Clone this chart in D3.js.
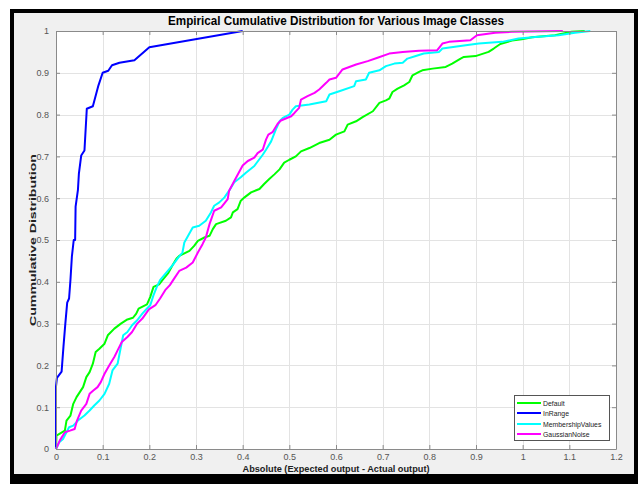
<!DOCTYPE html>
<html>
<head>
<meta charset="utf-8">
<script src="https://cdn.jsdelivr.net/npm/d3@7"></script>
<style>
  body { margin: 0; background: #fff; }
  svg { display: block; }
  text { font-family: "Liberation Sans", Arial, Helvetica, sans-serif; }
</style>
</head>
<body>
<svg id="chart" width="638" height="484"></svg>
<script>
// Empirical CDF samples [absolute error, cumulative fraction] for each image class
const seriesNames = ["Default", "InRange", "MembershipValues", "GaussianNoise"];
const seriesColors = ["#00ff00", "#0000ff", "#00ffff", "#ff00ff"];

const defaultCdf = [[0,0],[0.001,0.032],[0.019,0.044],[0.0225,0.068],[0.031,0.08],[0.037,0.108],[0.044,0.124],[0.051,0.136],[0.058,0.148],[0.065,0.172],[0.072,0.184],[0.079,0.204],[0.085,0.232],[0.093,0.24],[0.104,0.252],[0.111,0.272],[0.125,0.288],[0.139,0.3],[0.153,0.31],[0.165,0.314],[0.172,0.324],[0.177,0.336],[0.195,0.346],[0.202,0.364],[0.209,0.388],[0.221,0.394],[0.228,0.404],[0.24,0.42],[0.25,0.44],[0.258,0.455],[0.264,0.462],[0.286,0.474],[0.296,0.486],[0.304,0.498],[0.318,0.506],[0.329,0.51],[0.336,0.526],[0.343,0.538],[0.364,0.546],[0.375,0.554],[0.379,0.566],[0.389,0.574],[0.396,0.594],[0.404,0.602],[0.418,0.614],[0.436,0.622],[0.446,0.634],[0.457,0.646],[0.468,0.657],[0.479,0.669],[0.489,0.685],[0.5,0.692],[0.514,0.7],[0.525,0.712],[0.543,0.72],[0.564,0.732],[0.586,0.74],[0.6,0.752],[0.618,0.76],[0.625,0.776],[0.643,0.784],[0.657,0.794],[0.679,0.808],[0.693,0.828],[0.707,0.834],[0.714,0.838],[0.721,0.854],[0.732,0.862],[0.746,0.87],[0.757,0.878],[0.764,0.894],[0.778,0.902],[0.785,0.906],[0.807,0.91],[0.835,0.914],[0.849,0.922],[0.867,0.934],[0.874,0.938],[0.899,0.94],[0.927,0.95],[0.938,0.958],[0.952,0.969],[0.977,0.977],[0.998,0.98],[1.02,0.985],[1.069,0.99],[1.105,0.998],[1.133,1.0]];

const inRangeCdf = [[0,0],[0,0.15],[0.002,0.17],[0.012,0.185],[0.016,0.245],[0.02,0.3],[0.024,0.35],[0.028,0.36],[0.031,0.405],[0.034,0.46],[0.038,0.5],[0.041,0.5],[0.042,0.58],[0.047,0.62],[0.049,0.658],[0.054,0.702],[0.061,0.714],[0.066,0.814],[0.079,0.82],[0.091,0.87],[0.1,0.9],[0.112,0.905],[0.12,0.918],[0.136,0.924],[0.168,0.93],[0.2,0.961],[0.4,1.0]];

const membershipCdf = [[0,0],[0.007,0.016],[0.015,0.024],[0.028,0.052],[0.037,0.056],[0.047,0.068],[0.061,0.08],[0.072,0.092],[0.082,0.104],[0.093,0.116],[0.104,0.132],[0.114,0.156],[0.121,0.188],[0.132,0.204],[0.139,0.244],[0.144,0.272],[0.153,0.28],[0.163,0.296],[0.174,0.308],[0.185,0.324],[0.195,0.336],[0.202,0.344],[0.209,0.368],[0.216,0.388],[0.223,0.404],[0.235,0.42],[0.25,0.44],[0.262,0.458],[0.271,0.47],[0.275,0.494],[0.293,0.53],[0.307,0.534],[0.321,0.546],[0.332,0.566],[0.339,0.582],[0.35,0.59],[0.361,0.602],[0.371,0.618],[0.382,0.638],[0.396,0.65],[0.407,0.661],[0.425,0.677],[0.443,0.704],[0.45,0.716],[0.461,0.736],[0.471,0.764],[0.479,0.784],[0.486,0.792],[0.5,0.8],[0.507,0.812],[0.514,0.82],[0.543,0.824],[0.579,0.832],[0.586,0.848],[0.607,0.856],[0.639,0.868],[0.643,0.88],[0.664,0.884],[0.671,0.9],[0.693,0.906],[0.707,0.916],[0.725,0.922],[0.743,0.924],[0.753,0.934],[0.771,0.94],[0.788,0.946],[0.821,0.95],[0.828,0.958],[0.878,0.966],[0.906,0.97],[0.956,0.974],[0.991,0.982],[1.034,0.986],[1.077,0.99],[1.112,0.996],[1.145,1.0]];

const gaussianCdf = [[0,0],[0.008,0.02],[0.019,0.04],[0.03,0.044],[0.04,0.048],[0.045,0.068],[0.054,0.092],[0.065,0.108],[0.072,0.132],[0.08,0.14],[0.089,0.148],[0.096,0.16],[0.104,0.18],[0.114,0.2],[0.125,0.22],[0.132,0.236],[0.141,0.256],[0.153,0.268],[0.163,0.28],[0.174,0.3],[0.185,0.312],[0.199,0.334],[0.213,0.344],[0.223,0.36],[0.234,0.38],[0.244,0.392],[0.251,0.404],[0.264,0.426],[0.279,0.434],[0.293,0.446],[0.304,0.47],[0.314,0.49],[0.321,0.506],[0.329,0.538],[0.339,0.57],[0.354,0.578],[0.368,0.598],[0.371,0.618],[0.382,0.641],[0.4,0.678],[0.411,0.689],[0.425,0.697],[0.432,0.708],[0.443,0.716],[0.45,0.74],[0.455,0.752],[0.464,0.758],[0.475,0.778],[0.482,0.786],[0.504,0.796],[0.511,0.804],[0.521,0.816],[0.525,0.836],[0.539,0.844],[0.554,0.852],[0.564,0.86],[0.579,0.876],[0.586,0.884],[0.6,0.888],[0.614,0.908],[0.643,0.92],[0.668,0.928],[0.689,0.936],[0.714,0.946],[0.743,0.95],[0.778,0.953],[0.817,0.954],[0.828,0.97],[0.842,0.974],[0.888,0.978],[0.902,0.99],[0.941,0.996],[0.977,0.998],[1.086,1.0]];

const seriesData = [defaultCdf, inRangeCdf, membershipCdf, gaussianCdf];

const xTickValues = [0, 0.1, 0.2, 0.3, 0.4, 0.5, 0.6, 0.7, 0.8, 0.9, 1, 1.1, 1.2];
const xTickLabels = ["0", "0.1", "0.2", "0.3", "0.4", "0.5", "0.6", "0.7", "0.8", "0.9", "1", "1.1", "1.2"];
const yTickValues = [0, 0.1, 0.2, 0.3, 0.4, 0.5, 0.6, 0.7, 0.8, 0.9, 1];
const yTickLabels = ["0", "0.1", "0.2", "0.3", "0.4", "0.5", "0.6", "0.7", "0.8", "0.9", "1"];

const titleText = "Empirical Cumulative Distribution for Various Image Classes";
const xLabelText = "Absolute (Expected output - Actual output)";
const yLabelText = "Cummulative Distribution";

// ---- layout ----
const W = 638, H = 484;
const plot = { left: 56, right: 616, top: 31, bottom: 449 };

const svg = d3.select("#chart");

// figure frame: thick black border around a light grey figure panel
svg.append("rect").attr("x", 10).attr("y", 9).attr("width", W - 10).attr("height", H - 9).attr("fill", "#000");
svg.append("rect").attr("x", 14).attr("y", 13).attr("width", 620).attr("height", 461).attr("fill", "#f0f0f0");

const x = d3.scaleLinear().domain([0, 1.2]).range([plot.left, plot.right]);
const y = d3.scaleLinear().domain([0, 1]).range([plot.bottom, plot.top]);

// axes background
svg.append("rect")
  .attr("x", plot.left).attr("y", plot.top)
  .attr("width", plot.right - plot.left).attr("height", plot.bottom - plot.top)
  .attr("fill", "#fff");

// grid
const grid = svg.append("g").attr("stroke", "#e3e3e3").attr("stroke-width", 1);
grid.selectAll("line.gx").data(xTickValues.slice(1, -1)).join("line")
  .attr("x1", d => Math.round(x(d)) + 0.5).attr("x2", d => Math.round(x(d)) + 0.5)
  .attr("y1", plot.top).attr("y2", plot.bottom);
grid.selectAll("line.gy").data(yTickValues.slice(1, -1)).join("line")
  .attr("y1", d => Math.round(y(d)) + 0.5).attr("y2", d => Math.round(y(d)) + 0.5)
  .attr("x1", plot.left).attr("x2", plot.right);

// curves
const line = d3.line().x(d => x(d[0])).y(d => y(d[1]));
const curves = svg.append("g").attr("fill", "none").attr("stroke-width", 2).attr("stroke-linejoin", "round");
seriesData.forEach((pts, i) => {
  curves.append("path").attr("d", line(pts)).attr("stroke", seriesColors[i]);
});

// axes (box with inward ticks on all four sides)
const axisColor = "#8a8a8a";
const tickFmtX = (d, i) => xTickLabels[i];
const tickFmtY = (d, i) => yTickLabels[i];

function styleAxis(g) {
  g.select(".domain").attr("stroke", axisColor);
  g.selectAll(".tick line").attr("stroke", axisColor);
  g.selectAll(".tick text").attr("fill", "#555").attr("font-size", 9)
    .attr("font-family", "'Liberation Sans', Arial, sans-serif");
}

svg.append("g").attr("transform", `translate(0,${plot.bottom})`)
  .call(d3.axisBottom(x).tickValues(xTickValues).tickFormat(tickFmtX).tickSizeInner(-4).tickSizeOuter(0).tickPadding(5))
  .call(styleAxis);
svg.append("g").attr("transform", `translate(0,${plot.top})`)
  .call(d3.axisTop(x).tickValues(xTickValues).tickFormat("").tickSizeInner(-4).tickSizeOuter(0))
  .call(styleAxis);
svg.append("g").attr("transform", `translate(${plot.left},0)`)
  .call(d3.axisLeft(y).tickValues(yTickValues).tickFormat(tickFmtY).tickSizeInner(-4).tickSizeOuter(0).tickPadding(7))
  .call(styleAxis);
svg.append("g").attr("transform", `translate(${plot.right},0)`)
  .call(d3.axisRight(y).tickValues(yTickValues).tickFormat("").tickSizeInner(-4).tickSizeOuter(0))
  .call(styleAxis);

// titles
svg.append("text")
  .attr("x", (plot.left + plot.right) / 2).attr("y", 25)
  .attr("text-anchor", "middle").attr("font-weight", "bold").attr("font-size", 12)
  .attr("fill", "#000")
  .attr("textLength", 336).attr("lengthAdjust", "spacingAndGlyphs")
  .text(titleText);

svg.append("text")
  .attr("x", (plot.left + plot.right) / 2).attr("y", 472)
  .attr("text-anchor", "middle").attr("font-weight", "bold").attr("font-size", 9.5)
  .attr("fill", "#222")
  .attr("textLength", 187).attr("lengthAdjust", "spacingAndGlyphs")
  .text(xLabelText);

svg.append("text")
  .attr("transform", `translate(36,${(plot.top + plot.bottom) / 2}) rotate(-90)`)
  .attr("text-anchor", "middle").attr("font-weight", "bold").attr("font-size", 9.5)
  .attr("fill", "#222")
  .attr("textLength", 172).attr("lengthAdjust", "spacingAndGlyphs")
  .text(yLabelText);

// legend
const legend = svg.append("g");
legend.append("rect")
  .attr("x", 514.5).attr("y", 395.5).attr("width", 95).attr("height", 45)
  .attr("fill", "#fff").attr("stroke", "#555").attr("stroke-width", 1);
const rowY = [403, 413, 424, 434];
seriesNames.forEach((name, i) => {
  legend.append("line")
    .attr("x1", 517).attr("x2", 541).attr("y1", rowY[i]).attr("y2", rowY[i])
    .attr("stroke", seriesColors[i]).attr("stroke-width", 2);
  legend.append("text")
    .attr("transform", `translate(543,${rowY[i] + 3}) scale(0.86,1)`)
    .attr("font-size", 8).attr("fill", "#222")
    .text(name);
});
</script>
</body>
</html>
